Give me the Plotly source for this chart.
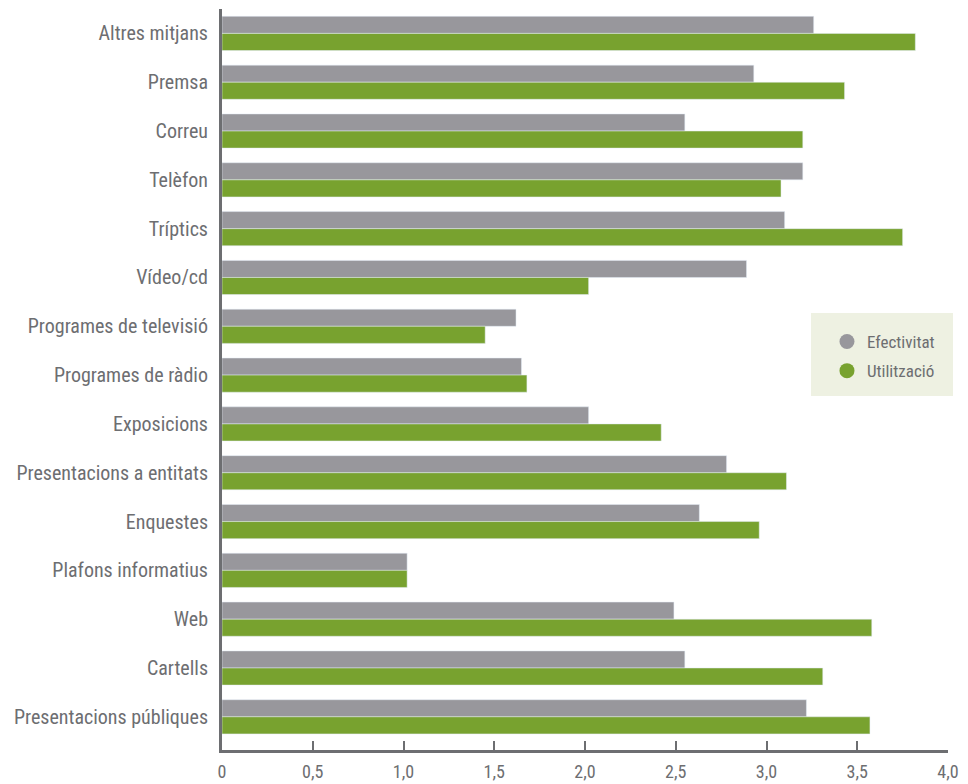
import plotly.graph_objects as go

categories = ["Altres mitjans", "Premsa", "Correu", "Telèfon", "Tríptics", "Vídeo/cd",
              "Programes de televisió", "Programes de ràdio", "Exposicions",
              "Presentacions a entitats", "Enquestes", "Plafons informatius", "Web",
              "Cartells", "Presentacions públiques"]
efectivitat = [3.26, 2.93, 2.55, 3.20, 3.10, 2.89, 1.62, 1.65, 2.02, 2.78, 2.63, 1.02, 2.49, 2.55, 3.22]
utilitzacio = [3.82, 3.43, 3.20, 3.08, 3.75, 2.02, 1.45, 1.68, 2.42, 3.11, 2.96, 1.02, 3.58, 3.31, 3.57]
series_names = ["Efectivitat", "Utilització"]
tick_vals = [0, 0.5, 1.0, 1.5, 2.0, 2.5, 3.0, 3.5, 4.0]
tick_text = ["0", "0,5", "1,0", "1,5", "2,0", "2,5", "3,0", "3,5", "4,0"]

GRAY = "#98979c"
GREEN = "#78a22f"
TEXT = "#6d6e71"
FONT = "Liberation Sans Narrow, Roboto Condensed, Open Sans, sans-serif"

fig = go.Figure()
fig.add_trace(go.Bar(y=categories, x=efectivitat, orientation="h", marker_color=GRAY,
                     name=series_names[0], showlegend=False))
fig.add_trace(go.Bar(y=categories, x=utilitzacio, orientation="h", marker_color=GREEN,
                     name=series_names[1], showlegend=False))
# legend entries with circle markers
for nm, col in zip(series_names, [GRAY, GREEN]):
    fig.add_trace(go.Scatter(x=[None], y=[None], mode="markers", name=nm, legendgroup=nm,
                             marker=dict(symbol="circle", size=15, color=col)))

# legend background box
fig.add_shape(type="rect", xref="paper", yref="paper",
              x0=0.8113, x1=1.0069, y0=0.4777, y1=0.5897,
              fillcolor="#eef1e2", line_width=0, layer="below")

fig.update_layout(
    width=960, height=776,
    margin=dict(l=214, r=20, t=1, b=34),
    paper_bgcolor="white", plot_bgcolor="white",
    barmode="group", bargap=0.30, bargroupgap=0,
    font=dict(family=FONT, size=20, color=TEXT),
    showlegend=True,
    legend=dict(x=0.8333, y=0.5749, xanchor="left", yanchor="top",
                bgcolor="rgba(0,0,0,0)", borderwidth=0,
                font=dict(size=17, color=TEXT), itemsizing="trace",
                tracegroupgap=4),
    xaxis=dict(range=[0, 4.0], tickvals=tick_vals, ticktext=tick_text, automargin=False,
               showgrid=False, zeroline=False, showline=True, linecolor="#6d6e71",
               linewidth=3, ticks="inside", ticklen=9, tickwidth=2, tickcolor="#6d6e71",
               ticklabelstandoff=3,
               tickfont=dict(size=18, color=TEXT)),
    yaxis=dict(range=[14.68, -0.5], automargin=False, showgrid=False, showline=True,
               linecolor="#6d6e71", linewidth=3, ticks="", ticklen=0,
               ticklabelstandoff=7,
               tickfont=dict(size=20, color=TEXT)),
)

fig.write_html("out.html")
